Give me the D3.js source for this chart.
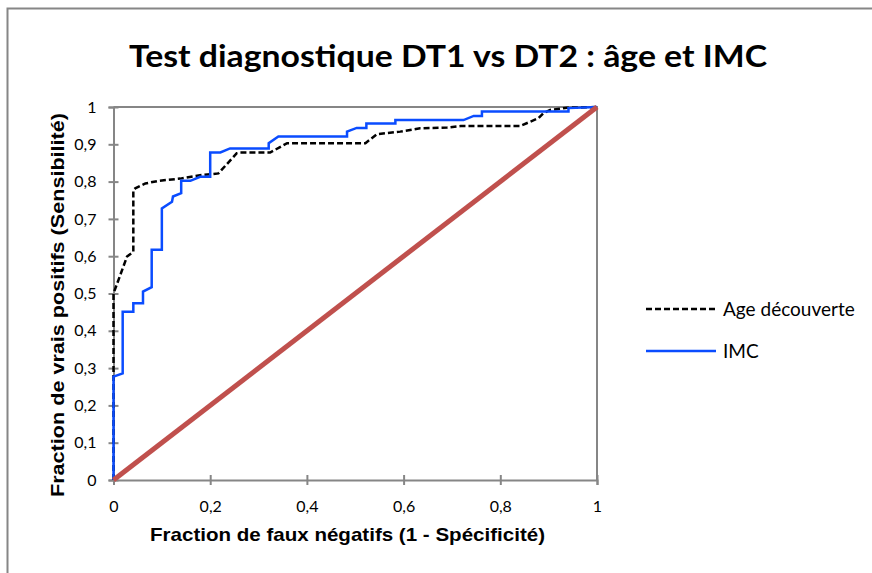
<!DOCTYPE html>
<html>
<head>
<meta charset="utf-8">
<script src="https://cdn.jsdelivr.net/npm/d3@7"></script>
<style>
  body { margin: 0; background: #fff; }
</style>
</head>
<body>
<div id="chart"></div>
<script>
// Age découverte (dashed black) : [1 - spécificité, sensibilité]
var ageCurve = [
  [0, 0], [0, 0.30], [0, 0.50], [0.028, 0.599], [0.041, 0.612], [0.041, 0.777],
  [0.045, 0.782], [0.066, 0.795], [0.093, 0.802], [0.138, 0.808], [0.179, 0.817],
  [0.217, 0.822], [0.255, 0.876], [0.262, 0.878], [0.324, 0.878], [0.359, 0.903],
  [0.521, 0.903], [0.545, 0.927], [0.593, 0.934], [0.634, 0.943], [0.690, 0.945],
  [0.718, 0.949], [0.841, 0.949], [0.879, 0.970], [0.889, 0.983], [0.903, 0.992],
  [0.938, 0.998], [1, 1]
];
// IMC (blue)
var imcCurve = [
  [0, 0], [0, 0.277], [0.019, 0.286], [0.019, 0.451], [0.041, 0.451], [0.041, 0.474],
  [0.061, 0.474], [0.061, 0.505], [0.079, 0.517], [0.079, 0.617], [0.100, 0.617],
  [0.100, 0.728], [0.121, 0.746], [0.123, 0.760], [0.140, 0.769], [0.140, 0.802],
  [0.159, 0.802], [0.179, 0.813], [0.200, 0.813], [0.200, 0.878], [0.221, 0.878],
  [0.241, 0.889], [0.321, 0.889], [0.321, 0.903], [0.341, 0.921], [0.483, 0.921],
  [0.483, 0.934], [0.503, 0.944], [0.523, 0.944], [0.523, 0.956], [0.583, 0.956],
  [0.583, 0.965], [0.724, 0.965], [0.745, 0.976], [0.762, 0.976], [0.762, 0.988],
  [0.941, 0.988], [0.941, 0.997], [1, 1]
];
// reference diagonal
var diagonal = [[0, 0], [1, 1]];
var tickValues = [0, 0.1, 0.2, 0.3, 0.4, 0.5, 0.6, 0.7, 0.8, 0.9, 1];
var xTickValues = [0, 0.2, 0.4, 0.6, 0.8, 1];
var seriesNames = ["Age découverte", "IMC"];

var W = 872, H = 573;
var plotLeft = 113.5, plotRight = 597, plotTop = 107, plotBottom = 480;
var axisGrey = "#868686";
var fmt = function (d) { return String(d).replace(".", ","); };

var svg = d3.select("#chart").append("svg")
    .attr("width", W)
    .attr("height", H);

// outer frame of the chart
svg.append("path")
    .attr("d", "M7.5," + H + "V8.5H" + W)
    .attr("fill", "none")
    .attr("stroke", axisGrey)
    .attr("stroke-width", 2);

svg.append("text")
    .attr("x", 448)
    .attr("y", 67)
    .attr("text-anchor", "middle")
    .style("font-family", "Lato, 'Open Sans', sans-serif")
    .style("font-weight", "bold")
    .style("font-size", "31px")
    .attr("textLength", 638)
    .attr("lengthAdjust", "spacingAndGlyphs")
    .text("Test diagnostique DT1 vs DT2 : âge et IMC");

var x = d3.scaleLinear().domain([0, 1]).range([plotLeft, plotRight]);
var y = d3.scaleLinear().domain([0, 1]).range([plotBottom, plotTop]);

// plot frame (top and right)
svg.append("path")
    .attr("d", "M" + plotLeft + "," + plotTop + "H" + plotRight + "V" + plotBottom)
    .attr("fill", "none")
    .attr("stroke", axisGrey)
    .attr("stroke-width", 2);

var gx = svg.append("g")
    .attr("transform", "translate(0," + plotBottom + ")")
    .call(d3.axisBottom(x).tickValues(xTickValues).tickFormat(fmt).tickSize(5).tickPadding(16));
var gy = svg.append("g")
    .attr("transform", "translate(" + plotLeft + ",0)")
    .call(d3.axisLeft(y).tickValues(tickValues).tickFormat(fmt).tickSize(5).tickPadding(12));

[gx, gy].forEach(function (g) {
    g.select(".domain").attr("stroke", axisGrey).attr("stroke-width", 2);
    g.selectAll(".tick line").attr("stroke", axisGrey).attr("stroke-width", 2);
    g.selectAll(".tick text")
        .attr("fill", "#000")
        .style("font-family", "Lato, 'Open Sans', sans-serif")
        .style("font-size", "16px");
});
// ticks cross the axis line
gx.selectAll(".tick line").attr("y1", -5).attr("y2", 5);
gy.selectAll(".tick line").attr("x1", -5).attr("x2", 5);

var line = d3.line()
    .x(function (d) { return x(d[0]); })
    .y(function (d) { return y(d[1]); });

svg.append("path")
    .attr("d", line(ageCurve))
    .attr("fill", "none")
    .attr("stroke", "#000")
    .attr("stroke-width", 2.5)
    .attr("stroke-dasharray", "6,3");

svg.append("path")
    .attr("d", line(imcCurve))
    .attr("fill", "none")
    .attr("stroke", "#0a4cff")
    .attr("stroke-width", 2.5);

svg.append("path")
    .attr("d", line(diagonal))
    .attr("fill", "none")
    .attr("stroke", "#c0504d")
    .attr("stroke-width", 5);

// axis titles
svg.append("text")
    .attr("x", 347.5)
    .attr("y", 541)
    .attr("text-anchor", "middle")
    .style("font-family", "'Liberation Sans', Arial, sans-serif")
    .style("font-weight", "bold")
    .style("font-size", "19px")
    .attr("textLength", 395)
    .attr("lengthAdjust", "spacingAndGlyphs")
    .text("Fraction de faux négatifs (1 - Spécificité)");

svg.append("text")
    .attr("transform", "translate(64,305) rotate(-90)")
    .attr("text-anchor", "middle")
    .style("font-family", "'Liberation Sans', Arial, sans-serif")
    .style("font-weight", "bold")
    .style("font-size", "19px")
    .attr("textLength", 384)
    .attr("lengthAdjust", "spacingAndGlyphs")
    .text("Fraction de vrais positifs (Sensibilité)");

// legend
var legend = svg.append("g").attr("transform", "translate(646,309)");
var styles = [
    { stroke: "#000", dash: "6,3" },
    { stroke: "#0a4cff", dash: null }
];
seriesNames.forEach(function (name, i) {
    var g = legend.append("g").attr("transform", "translate(0," + (i * 42) + ")");
    g.append("line")
        .attr("x1", 0).attr("x2", 70)
        .attr("stroke", styles[i].stroke)
        .attr("stroke-width", 2.5)
        .attr("stroke-dasharray", styles[i].dash);
    g.append("text")
        .attr("x", 77)
        .attr("dy", "0.35em")
        .style("font-family", "Lato, 'Open Sans', sans-serif")
        .style("font-size", "19px")
        .text(name);
});
</script>
</body>
</html>
